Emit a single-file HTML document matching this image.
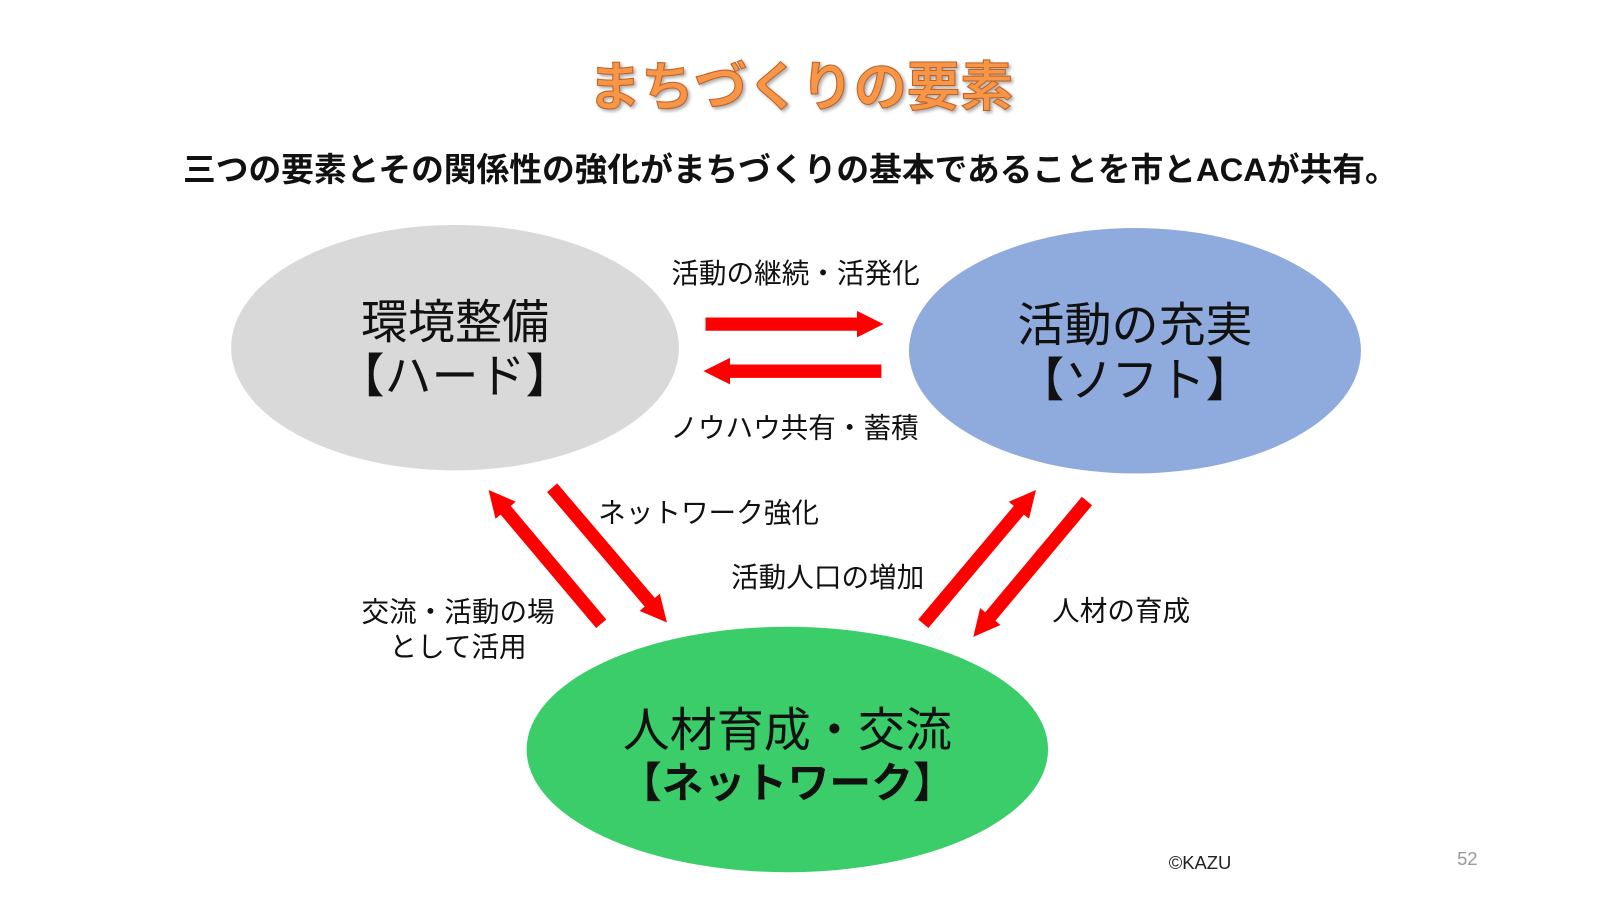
<!DOCTYPE html>
<html><head><meta charset="utf-8"><style>
body{margin:0;background:#fff}
svg text{font-family:"Liberation Sans","Noto Sans CJK JP",sans-serif}
</style></head><body>
<svg width="1600" height="900" viewBox="0 0 1600 900" xmlns="http://www.w3.org/2000/svg">
<defs>
<marker id="ah" markerUnits="userSpaceOnUse" markerWidth="30" markerHeight="30" refX="4" refY="13" orient="auto">
<path d="M0,0 L26,13 L0,26 Z" fill="#ff0000"/></marker>
<filter id="sh"><feDropShadow dx="2" dy="2" stdDeviation="1.5" flood-color="#777" flood-opacity="0.6"/></filter>
</defs>
<g transform="scale(1.0225)">
<text x="783" y="103" text-anchor="middle" font-size="52" font-weight="bold" fill="#f79646" stroke="#c06020" stroke-width="1" filter="url(#sh)">まちづくりの要素</text>
<text x="773" y="177" text-anchor="middle" font-size="32" font-weight="bold" fill="#111">三つの要素とその関係性の強化がまちづくりの基本であることを市とACAが共有。</text>
<ellipse cx="445" cy="340" rx="219" ry="120" fill="#d9d9d9"/>
<ellipse cx="1110" cy="343" rx="221" ry="120" fill="#8faadc"/>
<ellipse cx="770" cy="733" rx="255" ry="120" fill="#3acd69"/>
<text x="445" y="331" text-anchor="middle" font-size="46" fill="#111">環境整備</text>
<text x="445" y="384" text-anchor="middle" font-size="46" fill="#111">【ハード】</text>
<text x="1110" y="334" text-anchor="middle" font-size="46" fill="#111">活動の充実</text>
<text x="1110" y="388" text-anchor="middle" font-size="46" fill="#111">【ソフト】</text>
<text x="770" y="730" text-anchor="middle" font-size="46" fill="#111">人材育成・交流</text>
<text x="770" y="780" text-anchor="middle" font-size="41" font-weight="bold" fill="#111">【ネットワーク】</text>
<g stroke="#ff0000" stroke-width="13" marker-end="url(#ah)">
<line x1="690" y1="317" x2="842" y2="317"/>
<line x1="862" y1="363" x2="710" y2="363"/>
<line x1="588" y1="610" x2="492" y2="496"/>
<line x1="540" y1="477" x2="638" y2="592"/>
<line x1="903" y1="610" x2="999" y2="496"/>
<line x1="1063" y1="490" x2="966" y2="606"/>
</g>
<g font-size="27" fill="#111">
<text x="778" y="277" text-anchor="middle">活動の継続・活発化</text>
<text x="777" y="428" text-anchor="middle">ノウハウ共有・蓄積</text>
<text x="585" y="511">ネットワーク強化</text>
<text x="715" y="574">活動人口の増加</text>
<text x="1029" y="607">人材の育成</text>
<text x="448" y="608" text-anchor="middle">交流・活動の場</text>
<text x="448" y="642" text-anchor="middle">として活用</text>
</g>
<text x="1143" y="850" font-size="18" fill="#222">©KAZU</text>
<text x="1425" y="846" font-size="18" fill="#999">52</text>
</g>
</svg>
</body></html>
